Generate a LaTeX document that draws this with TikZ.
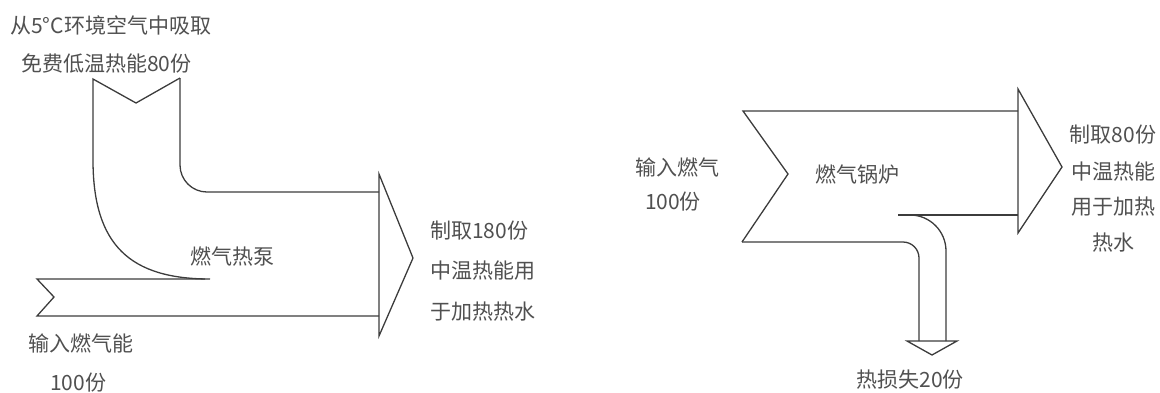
\documentclass[tikz,border=0pt]{standalone}
\usepackage{fontspec}
\usepackage{xcolor}
\usepackage{tikz}
\usetikzlibrary{positioning}
\usetikzlibrary{calc}
\newfontfamily\cjk{Noto Sans CJK SC}
\definecolor{inkline}{HTML}{3C3C3C}
\definecolor{inktext}{HTML}{505050}
\tikzstyle{band} = [draw=inkline, line width=1.3pt, line join=miter]
\tikzstyle{txt} = [text=inktext, inner sep=0pt, font=\cjk\fontsize{21}{24}\selectfont]

\begin{document}
\begin{tikzpicture}[x=1pt, y=-1pt]
  \useasboundingbox (0,0) rectangle (1160,392);
  % heat pump: air input
  \node[txt, anchor=west] (air1) at (10,25) {从5°C环境空气中吸取};
  \node[txt, anchor=west] (air2) at (21,64) {免费低温热能80份};
  % heat pump: gas input
  \node[txt, anchor=west] (gas1) at (28,343) {输入燃气能};
  \node[txt, anchor=west] (gas2) at (50,383) {100份};
  % heat pump tag
  \node[txt] (hp) at (232,257) {燃气热泵};
  % heat pump output
  \node[txt, anchor=west] (out1) at (430,231) {制取180份};
  \node[txt, anchor=west] (out2) at (430,271) {中温热能用};
  \node[txt, anchor=west] (out3) at (430,312) {于加热热水};
  % boiler input
  \node[txt] (bin1) at (677,167) {输入燃气};
  \node[txt] (bin2) at (673,202) {100份};
  % boiler tag
  \node[txt, anchor=west] (boiler) at (815,175) {燃气锅炉};
  % boiler output
  \node[txt] (bout1) at (1113,135) {制取80份};
  \node[txt] (bout2) at (1113,172) {中温热能};
  \node[txt] (bout3) at (1113,207) {用于加热};
  \node[txt] (bout4) at (1113,243) {热水};
  % boiler loss
  \node[txt] (loss) at (910,380) {热损失20份};

  % heat pump bands
  \draw[band] (205,279) -- (37,279) -- (54,297) -- (37,316) -- (379,316);
  \draw[band, rounded corners=27pt] (379,192) -- (180,192) -- (180,78);
  \draw[band] (180,78) -- (136,103) -- (93,79) -- (93,160)
    .. controls (93,245) and (130,279) .. (210,279);
  \draw[band] (379,174) -- (413,258) -- (379,336) -- cycle;

  % boiler bands
  \draw[band] (1018,111) -- (743,111) -- (788,174) -- (742,242);
  \draw[band, rounded corners=16pt] (742,242) -- (919,242) -- (919,341);
  \draw[band] (898,215) -- (1018,215);
  \draw[band, rounded corners=36pt] (946,341) -- (946,215) -- (898,215);
  \draw[band] (1018,89) -- (1062,167) -- (1018,233) -- cycle;
  \draw[band] (907,341) -- (957,341) -- (932,355) -- cycle;
\end{tikzpicture}
\end{document}
